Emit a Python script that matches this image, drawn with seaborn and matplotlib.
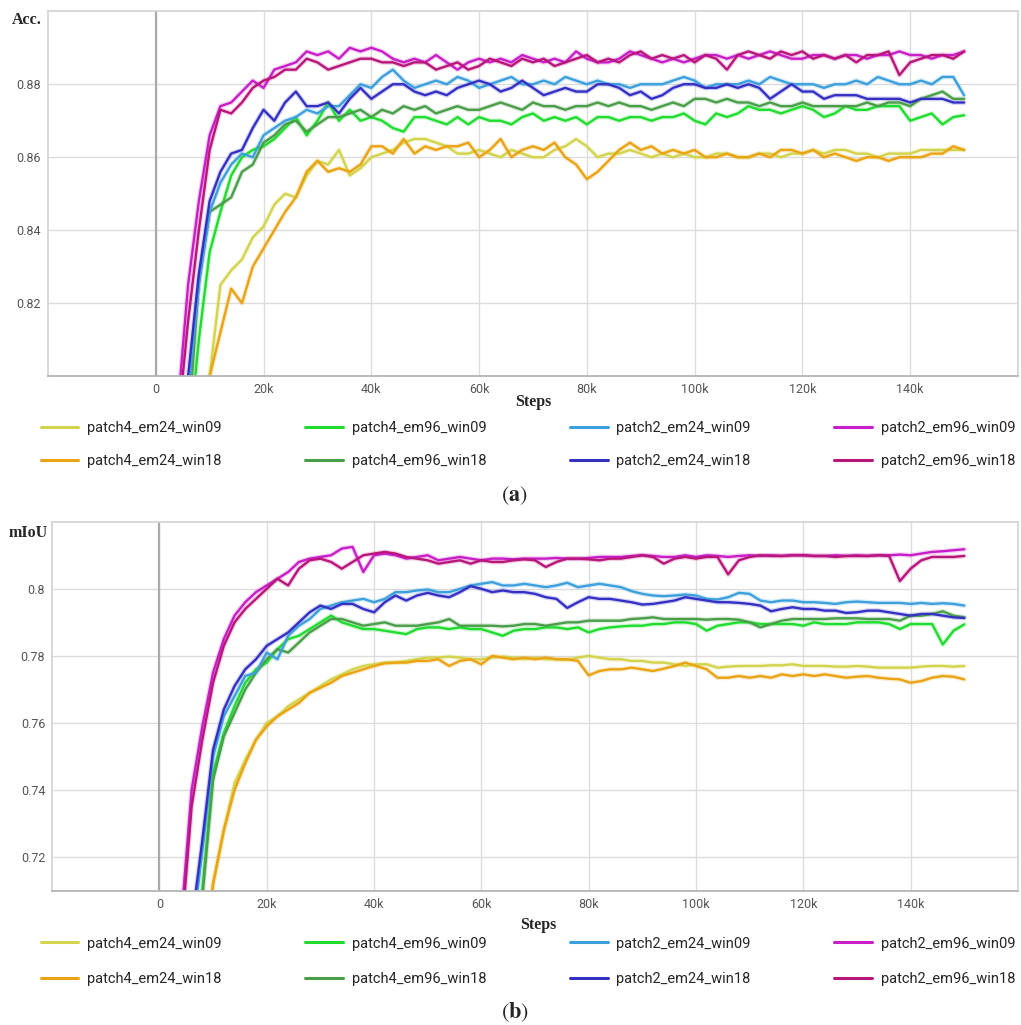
import numpy as np
import pandas as pd
import seaborn as sns
import matplotlib.pyplot as plt
from matplotlib.lines import Line2D

# training steps (every 2k)
steps = list(range(4000, 150001, 2000))

runs = ['patch4_em24_win09', 'patch4_em24_win18', 'patch4_em96_win09', 'patch4_em96_win18',
        'patch2_em24_win09', 'patch2_em24_win18', 'patch2_em96_win09', 'patch2_em96_win18']
colors = ['#d2d44c', '#eaa312', '#1fdc2e', '#4a9e4a',
          '#3ca0dc', '#3530c4', '#c81ec8', '#b8167a']

# ---- (a) accuracy ----
acc_p4_em24_w09 = [0.720, 0.750, 0.780, 0.800, 0.825, 0.829, 0.832, 0.838, 0.841, 0.847,
                   0.850, 0.849, 0.855, 0.859, 0.858, 0.862, 0.855, 0.857, 0.860, 0.861,
                   0.862, 0.864, 0.865, 0.865, 0.864, 0.863, 0.861, 0.861, 0.862, 0.861,
                   0.860, 0.862, 0.861, 0.860, 0.860, 0.862, 0.863, 0.865, 0.863, 0.860,
                   0.861, 0.861, 0.862, 0.861, 0.860, 0.861, 0.860, 0.861, 0.860, 0.860,
                   0.861, 0.861, 0.860, 0.860, 0.861, 0.861, 0.860, 0.861, 0.861, 0.862,
                   0.861, 0.862, 0.862, 0.861, 0.861, 0.860, 0.861, 0.861, 0.861, 0.862,
                   0.862, 0.862, 0.862, 0.862]
acc_p4_em24_w18 = [0.700, 0.730, 0.770, 0.800, 0.812, 0.824, 0.820, 0.830, 0.835, 0.840,
                   0.845, 0.849, 0.856, 0.859, 0.856, 0.857, 0.856, 0.858, 0.863, 0.863,
                   0.861, 0.865, 0.861, 0.863, 0.862, 0.863, 0.863, 0.864, 0.860, 0.862,
                   0.865, 0.860, 0.862, 0.863, 0.862, 0.864, 0.860, 0.858, 0.854, 0.856,
                   0.859, 0.862, 0.864, 0.862, 0.863, 0.861, 0.862, 0.861, 0.862, 0.860,
                   0.860, 0.861, 0.860, 0.860, 0.861, 0.860, 0.862, 0.862, 0.861, 0.862,
                   0.860, 0.861, 0.860, 0.859, 0.860, 0.860, 0.859, 0.860, 0.860, 0.860,
                   0.861, 0.861, 0.863, 0.862]
acc_p4_em96_w09 = [0.760, 0.780, 0.810, 0.834, 0.845, 0.855, 0.860, 0.862, 0.863, 0.865,
                   0.868, 0.871, 0.866, 0.870, 0.875, 0.870, 0.873, 0.870, 0.871, 0.870,
                   0.868, 0.867, 0.871, 0.871, 0.870, 0.869, 0.871, 0.869, 0.871, 0.870,
                   0.870, 0.869, 0.871, 0.872, 0.870, 0.871, 0.870, 0.871, 0.869, 0.871,
                   0.871, 0.870, 0.871, 0.871, 0.870, 0.871, 0.871, 0.872, 0.870, 0.869,
                   0.872, 0.871, 0.872, 0.874, 0.873, 0.873, 0.872, 0.873, 0.874, 0.873,
                   0.871, 0.872, 0.874, 0.873, 0.873, 0.874, 0.874, 0.874, 0.870, 0.871,
                   0.872, 0.869, 0.871, 0.8715]
acc_p4_em96_w18 = [0.755, 0.785, 0.826, 0.845, 0.847, 0.849, 0.856, 0.858, 0.864, 0.866,
                   0.869, 0.870, 0.867, 0.869, 0.871, 0.871, 0.872, 0.873, 0.871, 0.873,
                   0.872, 0.874, 0.873, 0.874, 0.872, 0.873, 0.874, 0.873, 0.873, 0.874,
                   0.875, 0.874, 0.873, 0.875, 0.874, 0.874, 0.873, 0.874, 0.874, 0.875,
                   0.874, 0.875, 0.874, 0.874, 0.873, 0.874, 0.875, 0.874, 0.876, 0.876,
                   0.875, 0.876, 0.875, 0.875, 0.874, 0.875, 0.874, 0.874, 0.875, 0.874,
                   0.874, 0.874, 0.874, 0.874, 0.875, 0.874, 0.875, 0.875, 0.874, 0.876,
                   0.877, 0.878, 0.876, 0.876]
acc_p2_em24_w09 = [0.765, 0.795, 0.825, 0.845, 0.853, 0.858, 0.861, 0.860, 0.866, 0.868,
                   0.870, 0.871, 0.873, 0.872, 0.874, 0.874, 0.877, 0.880, 0.879, 0.882,
                   0.884, 0.881, 0.879, 0.880, 0.881, 0.880, 0.882, 0.881, 0.879, 0.880,
                   0.881, 0.882, 0.880, 0.880, 0.881, 0.880, 0.882, 0.881, 0.880, 0.881,
                   0.880, 0.880, 0.879, 0.880, 0.880, 0.880, 0.881, 0.882, 0.881, 0.879,
                   0.880, 0.880, 0.880, 0.881, 0.880, 0.882, 0.881, 0.880, 0.880, 0.880,
                   0.879, 0.880, 0.880, 0.881, 0.880, 0.882, 0.881, 0.880, 0.880, 0.881,
                   0.880, 0.882, 0.882, 0.877]
acc_p2_em24_w18 = [0.770, 0.800, 0.828, 0.848, 0.856, 0.861, 0.862, 0.868, 0.873, 0.870,
                   0.875, 0.878, 0.874, 0.874, 0.875, 0.872, 0.876, 0.879, 0.876, 0.878,
                   0.880, 0.880, 0.878, 0.877, 0.878, 0.877, 0.879, 0.880, 0.881, 0.880,
                   0.878, 0.879, 0.881, 0.879, 0.877, 0.878, 0.879, 0.878, 0.878, 0.880,
                   0.880, 0.879, 0.877, 0.878, 0.876, 0.877, 0.879, 0.880, 0.880, 0.879,
                   0.879, 0.880, 0.879, 0.880, 0.879, 0.876, 0.878, 0.880, 0.878, 0.878,
                   0.876, 0.877, 0.877, 0.877, 0.876, 0.876, 0.876, 0.876, 0.875, 0.876,
                   0.876, 0.876, 0.875, 0.875]
acc_p2_em96_w09 = [0.790, 0.825, 0.848, 0.866, 0.874, 0.875, 0.878, 0.881, 0.879, 0.884,
                   0.885, 0.886, 0.889, 0.888, 0.889, 0.887, 0.890, 0.889, 0.890, 0.889,
                   0.887, 0.886, 0.887, 0.886, 0.888, 0.886, 0.884, 0.886, 0.887, 0.886,
                   0.887, 0.886, 0.888, 0.887, 0.886, 0.887, 0.886, 0.889, 0.887, 0.886,
                   0.886, 0.887, 0.889, 0.888, 0.887, 0.886, 0.887, 0.886, 0.887, 0.888,
                   0.888, 0.887, 0.888, 0.887, 0.888, 0.889, 0.888, 0.887, 0.887, 0.888,
                   0.888, 0.887, 0.888, 0.888, 0.887, 0.888, 0.888, 0.889, 0.888, 0.888,
                   0.887, 0.888, 0.888, 0.889]
acc_p2_em96_w18 = [0.785, 0.815, 0.840, 0.862, 0.873, 0.872, 0.875, 0.879, 0.881, 0.882,
                   0.884, 0.884, 0.887, 0.886, 0.884, 0.885, 0.886, 0.887, 0.887, 0.886,
                   0.886, 0.885, 0.886, 0.886, 0.884, 0.885, 0.886, 0.884, 0.885, 0.887,
                   0.886, 0.885, 0.887, 0.886, 0.887, 0.885, 0.886, 0.887, 0.888, 0.886,
                   0.887, 0.886, 0.888, 0.889, 0.887, 0.888, 0.887, 0.888, 0.886, 0.888,
                   0.887, 0.884, 0.888, 0.889, 0.888, 0.887, 0.889, 0.888, 0.889, 0.887,
                   0.888, 0.887, 0.888, 0.886, 0.888, 0.888, 0.889, 0.8825, 0.886, 0.887,
                   0.888, 0.888, 0.887, 0.889]

# ---- (b) mIoU ----
miou_p4_em24_w09 = [0.620, 0.650, 0.685, 0.712, 0.728, 0.742, 0.749, 0.755, 0.760, 0.762,
                    0.765, 0.767, 0.769, 0.771, 0.773, 0.7745, 0.776, 0.777, 0.7775, 0.778,
                    0.778, 0.7785, 0.779, 0.7795, 0.7795, 0.7798, 0.7795, 0.779, 0.779, 0.7795,
                    0.7798, 0.7795, 0.779, 0.7795, 0.779, 0.779, 0.7788, 0.7795, 0.780, 0.7795,
                    0.779, 0.779, 0.7785, 0.7785, 0.778, 0.778, 0.7775, 0.777, 0.7775, 0.7775,
                    0.7765, 0.7768, 0.777, 0.777, 0.777, 0.7772, 0.7772, 0.7775, 0.777, 0.777,
                    0.777, 0.7768, 0.7768, 0.777, 0.7768, 0.7765, 0.7765, 0.7765, 0.7765, 0.7768,
                    0.777, 0.777, 0.7768, 0.777]
miou_p4_em24_w18 = [0.610, 0.640, 0.680, 0.712, 0.728, 0.740, 0.748, 0.755, 0.759, 0.762,
                    0.764, 0.766, 0.769, 0.7705, 0.772, 0.774, 0.775, 0.776, 0.777, 0.7778,
                    0.778, 0.778, 0.7785, 0.7785, 0.779, 0.777, 0.7785, 0.779, 0.7775, 0.780,
                    0.7795, 0.779, 0.7795, 0.779, 0.7795, 0.779, 0.779, 0.7785, 0.7742, 0.7755,
                    0.776, 0.776, 0.7765, 0.776, 0.7755, 0.7762, 0.777, 0.778, 0.777, 0.776,
                    0.7735, 0.7735, 0.774, 0.7735, 0.774, 0.7735, 0.7745, 0.774, 0.7745, 0.774,
                    0.7745, 0.774, 0.7735, 0.7738, 0.774, 0.7735, 0.7732, 0.773, 0.772, 0.7725,
                    0.7735, 0.774, 0.7738, 0.773]
miou_p4_em96_w09 = [0.650, 0.680, 0.710, 0.745, 0.757, 0.765, 0.772, 0.776, 0.778, 0.782,
                    0.785, 0.786, 0.788, 0.790, 0.792, 0.790, 0.789, 0.788, 0.788, 0.7875,
                    0.787, 0.7865, 0.788, 0.7885, 0.7885, 0.788, 0.7885, 0.788, 0.788, 0.787,
                    0.786, 0.7875, 0.788, 0.788, 0.7885, 0.7885, 0.788, 0.7885, 0.787, 0.788,
                    0.7885, 0.7888, 0.789, 0.789, 0.7895, 0.7895, 0.790, 0.790, 0.7895, 0.7875,
                    0.789, 0.7895, 0.790, 0.790, 0.7895, 0.7895, 0.7895, 0.7895, 0.789, 0.790,
                    0.7895, 0.7895, 0.7895, 0.790, 0.790, 0.790, 0.7895, 0.788, 0.7895, 0.7895,
                    0.7895, 0.7834, 0.7875, 0.7894]
miou_p4_em96_w18 = [0.648, 0.678, 0.708, 0.743, 0.756, 0.763, 0.770, 0.775, 0.779, 0.782,
                    0.781, 0.784, 0.787, 0.789, 0.791, 0.791, 0.790, 0.789, 0.7895, 0.790,
                    0.789, 0.789, 0.789, 0.7895, 0.790, 0.791, 0.789, 0.789, 0.789, 0.789,
                    0.7888, 0.789, 0.7895, 0.7895, 0.789, 0.7895, 0.790, 0.790, 0.7905, 0.7905,
                    0.7905, 0.7905, 0.791, 0.7912, 0.7915, 0.791, 0.791, 0.791, 0.791, 0.7908,
                    0.791, 0.791, 0.7908, 0.790, 0.7885, 0.7895, 0.7905, 0.791, 0.791, 0.791,
                    0.791, 0.7912, 0.7912, 0.7912, 0.791, 0.791, 0.791, 0.7905, 0.792, 0.792,
                    0.7925, 0.7933, 0.792, 0.7915]
miou_p2_em24_w09 = [0.665, 0.695, 0.722, 0.750, 0.762, 0.768, 0.774, 0.775, 0.781, 0.779,
                    0.786, 0.789, 0.791, 0.794, 0.795, 0.796, 0.7965, 0.797, 0.796, 0.797,
                    0.799, 0.799, 0.7995, 0.7998, 0.799, 0.799, 0.800, 0.801, 0.8015, 0.802,
                    0.801, 0.801, 0.8015, 0.801, 0.8005, 0.801, 0.8018, 0.8005, 0.801, 0.8015,
                    0.801, 0.8005, 0.7993, 0.7985, 0.798, 0.7978, 0.798, 0.7983, 0.798, 0.797,
                    0.7968, 0.7975, 0.7988, 0.7985, 0.7965, 0.796, 0.7965, 0.7965, 0.796, 0.796,
                    0.7958, 0.7955, 0.796, 0.7962, 0.796, 0.7958, 0.7958, 0.7958, 0.7955, 0.7958,
                    0.7955, 0.7957, 0.7955, 0.795]
miou_p2_em24_w18 = [0.670, 0.700, 0.725, 0.752, 0.764, 0.771, 0.776, 0.779, 0.783, 0.785,
                    0.787, 0.790, 0.793, 0.795, 0.794, 0.7955, 0.7955, 0.794, 0.793, 0.796,
                    0.798, 0.7965, 0.798, 0.7988, 0.798, 0.7975, 0.799, 0.8008, 0.800, 0.799,
                    0.7995, 0.799, 0.799, 0.7985, 0.7975, 0.797, 0.7943, 0.796, 0.7975, 0.797,
                    0.797, 0.7965, 0.796, 0.7953, 0.7955, 0.796, 0.7965, 0.7975, 0.797, 0.7965,
                    0.796, 0.796, 0.7958, 0.7955, 0.795, 0.7933, 0.794, 0.7945, 0.794, 0.794,
                    0.7935, 0.7935, 0.7928, 0.793, 0.7935, 0.7935, 0.793, 0.7925, 0.792, 0.7925,
                    0.7925, 0.792, 0.7915, 0.7913]
miou_p2_em96_w09 = [0.700, 0.740, 0.759, 0.775, 0.785, 0.792, 0.796, 0.799, 0.801, 0.803,
                    0.805, 0.808, 0.809, 0.8095, 0.810, 0.812, 0.8125, 0.805, 0.810, 0.8105,
                    0.810, 0.809, 0.8095, 0.810, 0.8085, 0.809, 0.8095, 0.809, 0.8085, 0.809,
                    0.809, 0.8088, 0.809, 0.809, 0.809, 0.8092, 0.809, 0.809, 0.8092, 0.8095,
                    0.8095, 0.8095, 0.8098, 0.810, 0.8098, 0.8095, 0.8095, 0.810, 0.8095, 0.810,
                    0.8098, 0.8095, 0.8098, 0.810, 0.8098, 0.810, 0.8098, 0.810, 0.810, 0.8098,
                    0.8098, 0.810, 0.8098, 0.810, 0.8098, 0.810, 0.810, 0.8102, 0.810, 0.8105,
                    0.811, 0.8112, 0.8115, 0.8118]
miou_p2_em96_w18 = [0.695, 0.735, 0.755, 0.772, 0.783, 0.790, 0.794, 0.797, 0.800, 0.803,
                    0.801, 0.806, 0.8085, 0.809, 0.808, 0.806, 0.808, 0.810, 0.8105, 0.811,
                    0.8105, 0.8095, 0.809, 0.8085, 0.8075, 0.808, 0.8085, 0.8075, 0.8085, 0.808,
                    0.808, 0.8085, 0.8088, 0.8085, 0.8065, 0.808, 0.809, 0.809, 0.8088, 0.8085,
                    0.809, 0.809, 0.8095, 0.810, 0.8095, 0.8075, 0.809, 0.8095, 0.809, 0.8095,
                    0.8095, 0.8043, 0.8085, 0.8095, 0.810, 0.8098, 0.8098, 0.810, 0.810, 0.8098,
                    0.8098, 0.8095, 0.8098, 0.8098, 0.8098, 0.810, 0.8098, 0.8023, 0.806, 0.8085,
                    0.8095, 0.8095, 0.8095, 0.8098]

acc_series = [acc_p4_em24_w09, acc_p4_em24_w18, acc_p4_em96_w09, acc_p4_em96_w18,
              acc_p2_em24_w09, acc_p2_em24_w18, acc_p2_em96_w09, acc_p2_em96_w18]
miou_series = [miou_p4_em24_w09, miou_p4_em24_w18, miou_p4_em96_w09, miou_p4_em96_w18,
               miou_p2_em24_w09, miou_p2_em24_w18, miou_p2_em96_w09, miou_p2_em96_w18]


def long_table(series):
    frames = []
    for name, vals in zip(runs, series):
        frames.append(pd.DataFrame({'step': steps, 'value': vals, 'run': name}))
    return pd.concat(frames, ignore_index=True)


sns.set_theme(style='white')
plt.rcParams['font.family'] = ['Roboto', 'DejaVu Sans']
palette = dict(zip(runs, colors))

fig = plt.figure(figsize=(10.21, 10.25), dpi=100)
ax1 = fig.add_axes([0.047, 0.633, 0.950, 0.356])
ax2 = fig.add_axes([0.051, 0.131, 0.946, 0.360])


def draw(ax, df, ylim, yticks, ylabels):
    # soft halo standing in for the unsmoothed curves
    sns.lineplot(data=df, x='step', y='value', hue='run', palette=palette, estimator=None,
                 lw=3.5, alpha=0.2, legend=False, ax=ax)
    sns.lineplot(data=df, x='step', y='value', hue='run', palette=palette, estimator=None,
                 lw=1.7, legend=False, ax=ax)
    ax.set_xlim(-20000, 160000)
    ax.set_ylim(*ylim)
    ax.set_xticks(range(0, 140001, 20000))
    ax.set_xticklabels(['0'] + [f'{k}k' for k in range(20, 141, 20)])
    ax.set_yticks(yticks)
    ax.set_yticklabels(ylabels)
    ax.grid(True, color='#dcdcdc', lw=1)
    ax.set_axisbelow(True)
    ax.axvline(0, color='#aaaaaa', lw=1.6, zorder=1)
    for s in ax.spines.values():
        s.set_color('#d4d4d4')
    ax.spines['bottom'].set_color('#b4b4b4')
    ax.spines['bottom'].set_linewidth(1.3)
    ax.tick_params(length=0, labelsize=9, labelcolor='#555555', pad=5)
    ax.set_xlabel('')
    ax.set_ylabel('')


draw(ax1, long_table(acc_series), (0.80, 0.90),
     [0.82, 0.84, 0.86, 0.88], ['0.82', '0.84', '0.86', '0.88'])
draw(ax2, long_table(miou_series), (0.71, 0.82),
     [0.72, 0.74, 0.76, 0.78, 0.80], ['0.72', '0.74', '0.76', '0.78', '0.8'])

serif = ['Liberation Serif', 'DejaVu Serif']
fig.text(0.026, 0.980, 'Acc.', family=serif, weight='bold', fontsize=11.5, ha='center', va='center')
fig.text(0.028, 0.480, 'mIoU', family=serif, weight='bold', fontsize=11.5, ha='center', va='center')
fig.text(0.522, 0.608, 'Steps', family=serif, weight='bold', fontsize=11.5, ha='center', va='center')
fig.text(0.527, 0.0975, 'Steps', family=serif, weight='bold', fontsize=11.5, ha='center', va='center')

plt.rcParams['mathtext.fontset'] = 'stix'
fig.text(0.504, 0.516, r'$(\mathbf{a})$', fontsize=16, ha='center', va='center')
fig.text(0.504, 0.013, r'$(\mathbf{b})$', fontsize=16, ha='center', va='center')

handles = [Line2D([], [], color=c, lw=2.2) for c in colors]
for yc, gap in [(0.566, 1.3), (0.062, 1.5)]:
    fig.legend(handles, runs, ncol=4, loc='center', mode='expand',
               bbox_to_anchor=(0.034, yc - 0.03, 0.966, 0.06), frameon=False,
               fontsize=10.5, handlelength=2.6, handletextpad=0.6,
               labelspacing=gap, borderaxespad=0)

fig.savefig('out.png', dpi=100)
